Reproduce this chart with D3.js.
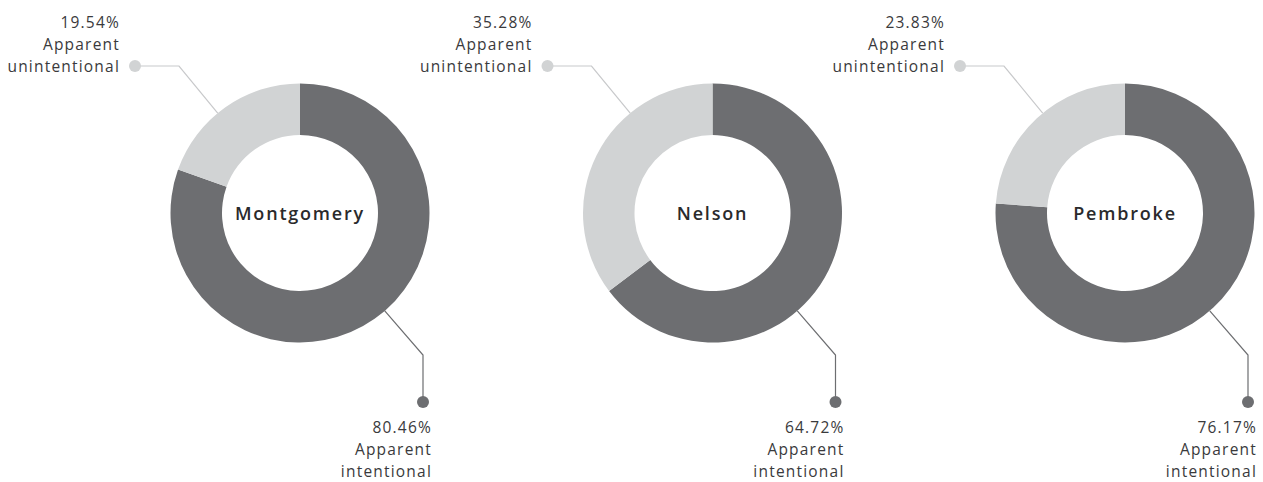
<!DOCTYPE html>
<html>
<head>
<meta charset="utf-8">
<script src="https://cdn.jsdelivr.net/npm/d3@7"></script>
<style>
  body { margin: 0; background: #fff; }
  svg { display: block; }
  .label { font-family: 'Open Sans', sans-serif; font-weight: 400; font-size: 15.5px; fill: #3a3a3c; letter-spacing: 1.2px; }
  .title { font-family: 'Open Sans', sans-serif; font-weight: 600; font-size: 18px; fill: #2a2a2c; letter-spacing: 1.8px; }
</style>
</head>
<body>
<div id="content"></div>
<script>
// values
const REGIONS = ['Montgomery', 'Nelson', 'Pembroke'];
const INTENTIONAL = [80.46, 64.72, 76.17];
const UNINTENTIONAL = [19.54, 35.28, 23.83];
const CATEGORIES = ['Apparent intentional', 'Apparent unintentional'];
const COLORS = ['#6d6e71', '#d1d3d4'];

var width = 1263;
var height = 482;
var cy = 213;
var outer = 129.5;
var inner = 78;

var svg = d3.select('#content')
.append('svg')
.attr('width', width)
.attr('height', height);

var xScale = d3.scalePoint()
.domain(REGIONS)
.range([300, 1125]);

var color = d3.scaleOrdinal()
.domain(CATEGORIES)
.range(COLORS);

var pie = d3.pie()
.sort(null)
.value(function (d) {return d.value});

var arc = d3.arc()
.innerRadius(inner)
.outerRadius(outer);

function splitLabel(cat) {
    // "Apparent intentional" -> ["Apparent", "intentional"]
    var i = cat.indexOf(' ');
    return [cat.slice(0, i), cat.slice(i + 1)];
}

REGIONS.forEach(function (region, r) {
    var slices = [
        {category: CATEGORIES[0], value: INTENTIONAL[r]},
        {category: CATEGORIES[1], value: UNINTENTIONAL[r]}
    ];
    var cx = xScale(region);

    var g = svg.append('g')
    .attr('transform', 'translate(' + cx + ',' + cy + ')');

    g.selectAll('path.slice')
    .data(pie(slices))
    .enter()
    .append('path')
    .attr('class', 'slice')
    .attr('d', arc)
    .attr('fill', function (d) {return color(d.data.category)});

    g.append('text')
    .attr('class', 'title')
    .attr('text-anchor', 'middle')
    .attr('y', 6.5)
    .text(region);

    // callouts: dark slice to bottom right, light slice to top left
    slices.forEach(function (s, i) {
        var elbow, dot;
        if (i === 0) {
            elbow = [123, 142];
            dot = [123, 189];
        } else {
            elbow = [-121, -147];
            dot = [-165, -147];
        }
        var dist = Math.sqrt(elbow[0] * elbow[0] + elbow[1] * elbow[1]);
        var start = [elbow[0] * outer / dist, elbow[1] * outer / dist];

        g.append('polyline')
        .attr('points', [start, elbow, dot].map(function (p) {return p.join(',')}).join(' '))
        .attr('fill', 'none')
        .attr('stroke', i === 0 ? '#6d6e71' : '#c8c9cb')
        .attr('stroke-width', 1.2);

        g.append('circle')
        .attr('cx', dot[0])
        .attr('cy', dot[1])
        .attr('r', 6)
        .attr('fill', color(s.category));

        var text = [d3.format('.2f')(s.value) + '%'].concat(splitLabel(s.category));
        var tx, ty0;
        if (i === 0) {
            tx = dot[0] + 9;
            ty0 = 220;
        } else {
            tx = dot[0] - 15;
            ty0 = -185;
        }
        var t = g.append('text')
        .attr('class', 'label')
        .attr('text-anchor', 'end');
        t.selectAll('tspan')
        .data(text)
        .enter()
        .append('tspan')
        .attr('x', tx)
        .attr('y', function (d, k) {return ty0 + k * 21.8})
        .text(function (d) {return d});
    });
});
</script>
</body>
</html>
